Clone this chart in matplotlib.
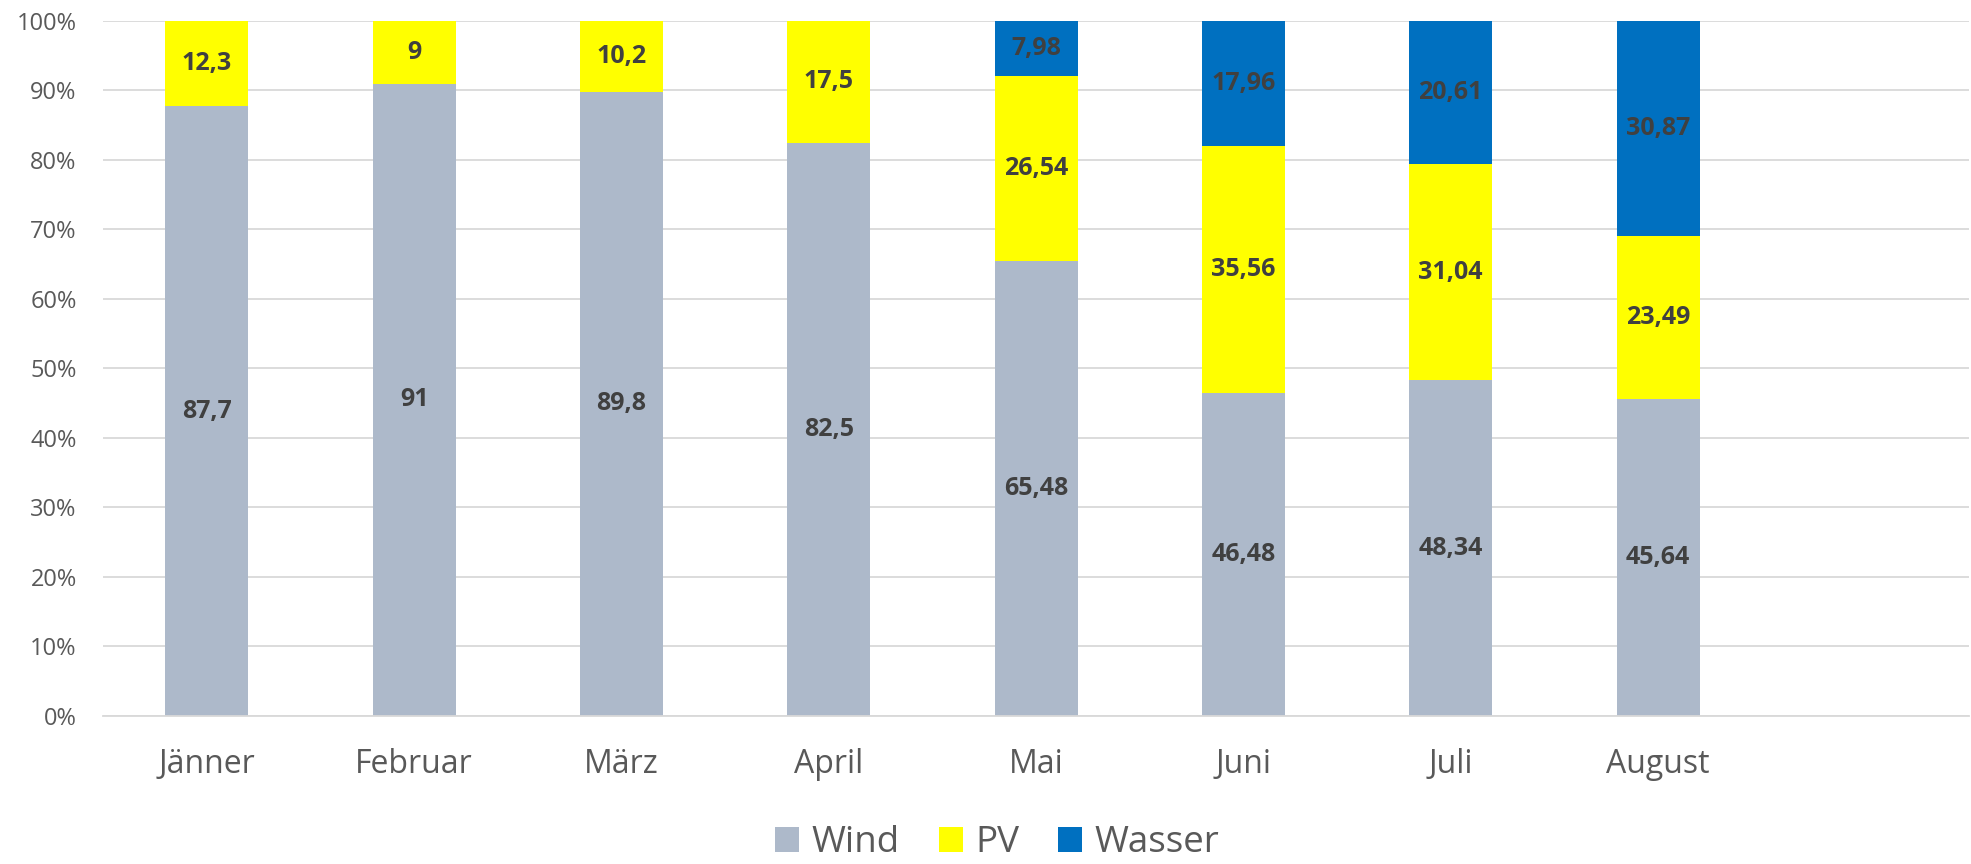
import matplotlib
matplotlib.use("Agg")
import matplotlib.pyplot as plt
import numpy as np
from matplotlib.ticker import FuncFormatter

plt.rcParams['font.family'] = ['Open Sans', 'DejaVu Sans']

months = ['Jänner', 'Februar', 'März', 'April', 'Mai', 'Juni', 'Juli', 'August']
wind = [87.7, 91, 89.8, 82.5, 65.48, 46.48, 48.34, 45.64]
pv = [12.3, 9, 10.2, 17.5, 26.54, 35.56, 31.04, 23.49]
wasser = [0, 0, 0, 0, 7.98, 17.96, 20.61, 30.87]

series = [('Wind', wind, '#ADB9CA'), ('PV', pv, '#FFFF00'), ('Wasser', wasser, '#0070C0')]

fig = plt.figure(figsize=(19.71, 8.64), dpi=100)
ax = fig.add_axes([0.0523, 0.1713, 0.9467, 0.8044])

x = np.arange(len(months))
bottom = np.zeros(len(months))
for name, vals, col in series:
    vals = np.array(vals, dtype=float)
    bars = ax.bar(x, vals, 0.4, bottom=bottom, color=col, label=name, zorder=2)
    labels = [f"{v:g}".replace('.', ',') if v > 0 else '' for v in vals]
    ax.bar_label(bars, labels=labels, label_type='center', fontsize=18,
                 fontweight='bold', color='#404040')
    bottom += vals

ax.set_xlim(-0.5, 8.5)
ax.set_ylim(0, 100)
ax.set_yticks(np.arange(0, 101, 10))
ax.yaxis.set_major_formatter(FuncFormatter(lambda v, p: f"{v:.0f}%"))
ax.set_xticks(x)
ax.set_xticklabels(months)
ax.grid(axis='y', color='#D9D9D9', linewidth=1.3, zorder=0)
ax.set_axisbelow(True)
for s in ['top', 'right', 'left']:
    ax.spines[s].set_visible(False)
ax.spines['bottom'].set_color('#D9D9D9')
ax.spines['bottom'].set_linewidth(1.3)
ax.tick_params(axis='both', length=0)
ax.tick_params(axis='y', labelsize=17, labelcolor='#595959', pad=19)
ax.tick_params(axis='x', labelsize=23, labelcolor='#595959', pad=23)

fig.legend(loc='center', bbox_to_anchor=(0.506, 0.024), ncol=3, frameon=False,
           fontsize=26.5, labelcolor='#595959', handlelength=0.65, handleheight=0.65,
           handletextpad=0.35, columnspacing=1.05, borderpad=0.1)

fig.savefig('out.png', dpi=100)
